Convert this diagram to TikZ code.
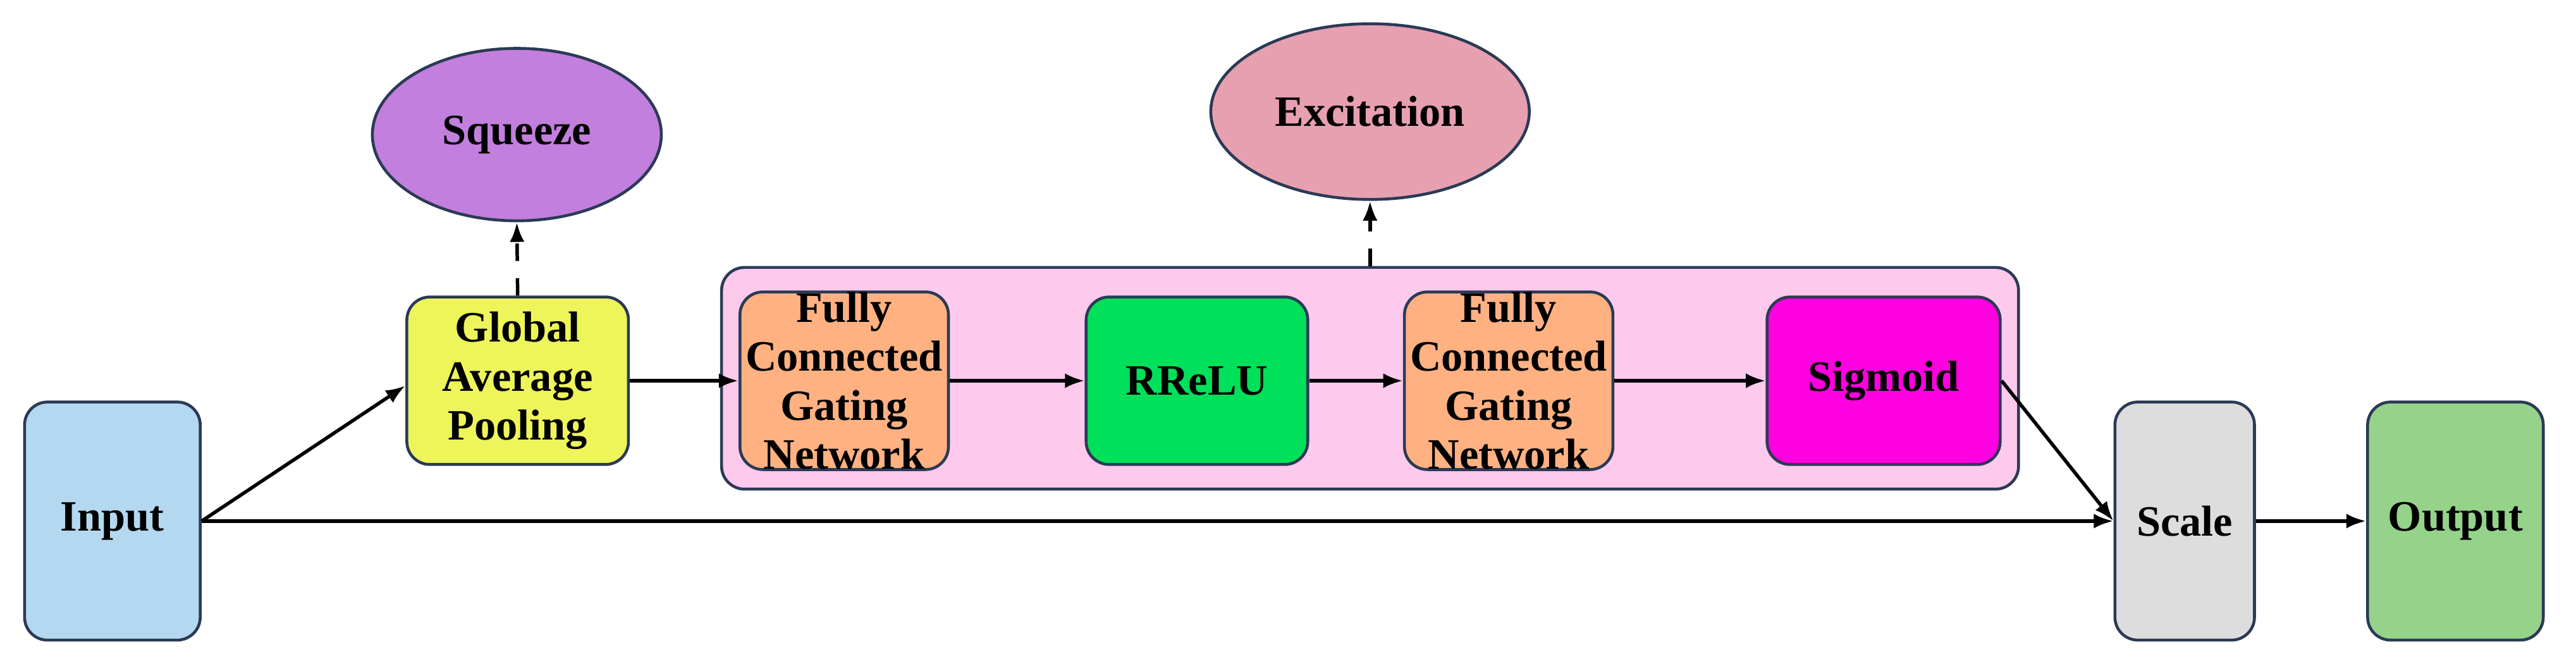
\documentclass[tikz,border=0pt]{standalone}
\usepackage{fontspec}
\setmainfont{Liberation Serif}
\usetikzlibrary{shapes.geometric,arrows.meta}
\definecolor{cin}{HTML}{B4D8F0}
\definecolor{cgap}{HTML}{EEF55A}
\definecolor{csq}{HTML}{C27FDD}
\definecolor{cpink}{HTML}{FDC9EC}
\definecolor{cfc}{HTML}{FFB182}
\definecolor{crr}{HTML}{00E05A}
\definecolor{csig}{HTML}{FF00E0}
\definecolor{cex}{HTML}{E6A0B0}
\definecolor{csc}{HTML}{DDDDDD}
\definecolor{cout}{HTML}{95D38A}
\definecolor{edge}{HTML}{2B3A55}
\begin{document}
\begin{tikzpicture}[x=0.01cm,y=-0.01cm,
 box/.style={draw=edge,line width=0.5pt,rounded corners=0.14cm,align=center,font=\fontsize{7.5}{8.5}\selectfont\bfseries,inner sep=0pt},
 ell/.style={draw=edge,line width=0.5pt,ellipse,inner sep=0pt,font=\fontsize{7.5}{8.5}\selectfont\bfseries},
 arr/.style={-{Latex[length=0.12cm,width=0.09cm]},line width=0.6pt},
 darr/.style={arr,dashed}]
\useasboundingbox (0,0) rectangle (1570,408.5);
\node[box,fill=cpink,minimum width=790\pgflinewidth*0+7.9cm,minimum height=1.35cm] (cont) at (835,230.5) {};
\node[box,fill=cin,minimum width=1.07cm,minimum height=1.45cm] (in) at (68.5,317.5) {Input};
\node[box,fill=cgap,minimum width=1.35cm,minimum height=1.02cm] (gap) at (315.5,232) {Global\\Average\\Pooling};
\node[box,fill=cfc,minimum width=1.27cm,minimum height=1.02cm] (fc1) at (514.5,232) {Fully\\Connected\\Gating\\Network};
\node[box,fill=crr,minimum width=1.35cm,minimum height=1.02cm] (rr) at (729.5,232) {RReLU};
\node[box,fill=cfc,minimum width=1.27cm,minimum height=1.02cm] (fc2) at (919.5,232) {Fully\\Connected\\Gating\\Network};
\node[box,fill=csig,minimum width=1.42cm,minimum height=1.02cm] (sig) at (1148,232) {Sigmoid};
\node[box,fill=csc,minimum width=0.85cm,minimum height=1.45cm] (sc) at (1331.5,317.5) {Scale};
\node[box,fill=cout,minimum width=1.07cm,minimum height=1.45cm] (out) at (1496.5,317.5) {Output};
\node[ell,fill=csq,minimum width=1.76cm,minimum height=1.05cm] (sq) at (315,82) {Squeeze};
\node[ell,fill=cex,minimum width=1.94cm,minimum height=1.07cm] (ex) at (835,68) {Excitation};
\draw[arr] (in.east) -- ([yshift=-0.03cm]gap.west);
\draw[arr] (in.east) -- (sc.west);
\draw[arr] (gap.east) -- (fc1.west);
\draw[arr] (fc1) -- (rr);
\draw[arr] (rr) -- (fc2);
\draw[arr] (fc2) -- (sig);
\draw[arr] (sig.east) -- (sc.west);
\draw[arr] (sc) -- (out);
\draw[darr] (gap.north) -- (sq.south);
\draw[darr] (cont.north) -- (ex.south);
\end{tikzpicture}
\end{document}
